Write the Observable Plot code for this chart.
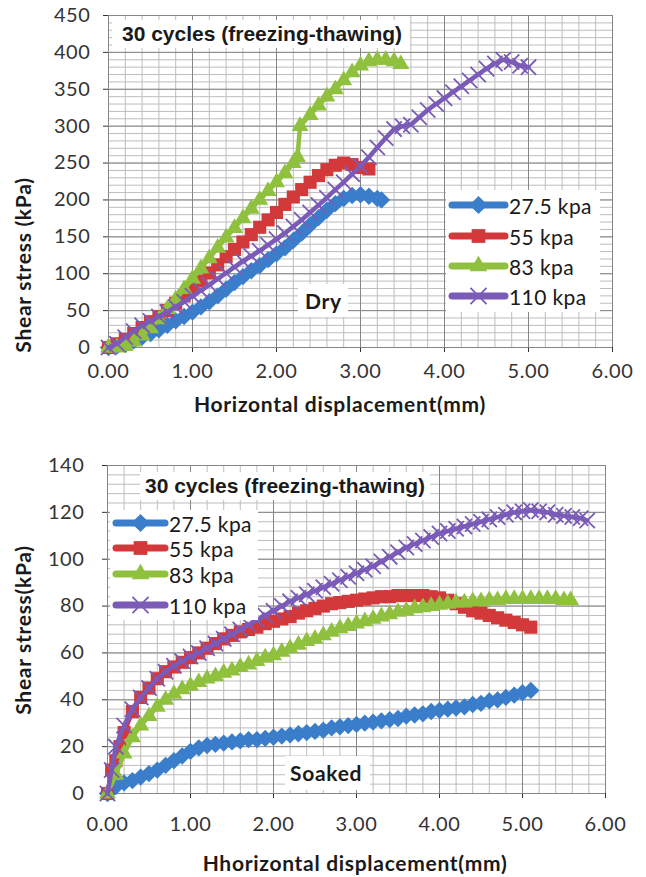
<!DOCTYPE html>
<html>
<head>
<meta charset="utf-8">
<script src="https://cdn.jsdelivr.net/npm/d3@7"></script>
<script src="https://cdn.jsdelivr.net/npm/@observablehq/plot@0.6"></script>
<style>
  html, body { margin: 0; padding: 0; background: #fff; }
  #wrap { position: relative; width: 646px; height: 877px; overflow: hidden; background: #fff; }
  #wrap > svg { position: absolute; left: 0; }
  .box { position: absolute; background: #fff; }
  .t { position: absolute; white-space: nowrap; color: #1a1a1a; }
  .ttl { font-family: "Liberation Sans", Arial, sans-serif; font-weight: bold; font-size: 21px; }
  .axt { font-family: Lato, sans-serif; font-weight: bold; font-size: 21px; letter-spacing: 0.7px; color: #1a1a1a; }
  .leg { font-family: Lato, sans-serif; font-size: 21px; letter-spacing: 0.4px; color: #1a1a1a; display: flex; align-items: center; position: absolute; }
</style>
</head>
<body>
<div id="wrap"></div>
<script>
// ---------- data ----------
const xTicks = [0, 1, 2, 3, 4, 5, 6];
const yTicksDry = [0, 50, 100, 150, 200, 250, 300, 350, 400, 450];
const yTicksSoaked = [0, 20, 40, 60, 80, 100, 120, 140];
const seriesNames = ["27.5 kpa", "55 kpa", "83 kpa", "110 kpa"];

// Dry (top chart)
const dry275X = [0,0.1,0.2,0.3,0.4,0.5,0.6,0.7,0.8,0.9,1.0,1.1,1.2,1.3,1.4,1.5,1.6,1.7,1.8,1.9,2.0,2.1,2.2,2.3,2.4,2.5,2.6,2.7,2.8,2.9,3.0,3.1,3.2,3.25];
const dry275Y = [0,2,4,9,14,19,24,30,36,42,48,55,62,70,79,88,96,104,111,119,127,135,145,155,166,176,186,195,202,206,207,205,202,200];

const dry55X = [0,0.1,0.2,0.3,0.4,0.5,0.6,0.7,0.8,0.9,1.0,1.1,1.2,1.3,1.4,1.5,1.6,1.7,1.8,1.9,2.0,2.1,2.2,2.3,2.4,2.5,2.6,2.7,2.8,2.9,3.0,3.1];
const dry55Y = [0,5,11,19,27,35,42,50,60,70,80,90,101,112,123,133,143,153,163,173,183,194,204,214,224,233,241,247,250,248,244,242];

const dry83X = [0,0.1,0.2,0.3,0.4,0.5,0.6,0.7,0.8,0.9,1.0,1.1,1.2,1.3,1.4,1.5,1.6,1.7,1.8,1.9,2.0,2.1,2.2,2.25,2.28,2.4,2.5,2.6,2.7,2.8,2.9,3.0,3.1,3.2,3.3,3.4,3.48];
const dry83Y = [0,0,2,8,16,26,38,52,65,79,93,107,121,135,149,162,175,188,200,212,224,236,250,258,300,315,328,340,350,362,373,382,388,390,390,388,384];

const dry110X = [0,0.1,0.2,0.3,0.4,0.5,0.6,0.7,0.8,0.9,1.0,1.1,1.2,1.3,1.4,1.5,1.6,1.7,1.8,1.9,2.0,2.1,2.2,2.3,2.4,2.5,2.6,2.7,2.8,2.9,3.0,3.1,3.2,3.3,3.4,3.5,3.6,3.7,3.8,3.9,4.0,4.1,4.2,4.3,4.4,4.5,4.6,4.7,4.8,4.9,5.0];
const dry110Y = [0,5,14,22,30,36,42,48,55,62,70,77,85,93,101,109,117,124,131,139,147,155,164,173,183,193,203,214,224,235,246,258,271,284,296,300,302,312,322,330,338,346,354,362,370,378,385,390,387,382,380];

// Soaked (bottom chart)
const soak275X = [0,0.1,0.2,0.3,0.4,0.5,0.6,0.7,0.8,0.9,1.0,1.1,1.2,1.3,1.4,1.5,1.6,1.7,1.8,1.9,2.0,2.1,2.2,2.3,2.4,2.5,2.6,2.7,2.8,2.9,3.0,3.1,3.2,3.3,3.4,3.5,3.6,3.7,3.8,3.9,4.0,4.1,4.2,4.3,4.4,4.5,4.6,4.7,4.8,4.9,5.0,5.1];
const soak275Y = [0,3,4.5,5.5,7,8.5,10,12,14,16,18,19.5,20.5,21,21.5,22,22.5,23,23,23.5,24,24.5,25,25.5,26,26.5,27,28,28.5,29,29.5,30,30.5,31,31.5,32,33,33.5,34,35,35.5,36,36.5,37,38,38.5,39.5,40,41,42,43,44];

const soak55X = [0,0.05,0.1,0.15,0.2,0.3,0.4,0.5,0.6,0.7,0.8,0.9,1.0,1.1,1.2,1.3,1.4,1.5,1.6,1.7,1.8,1.9,2.0,2.1,2.2,2.3,2.4,2.5,2.6,2.7,2.8,2.9,3.0,3.1,3.2,3.3,3.4,3.5,3.6,3.7,3.8,3.9,4.0,4.1,4.2,4.3,4.4,4.5,4.6,4.7,4.8,4.9,5.0,5.1];
const soak55Y = [0,10,14,20,26,35,41,45,49,52,54,56,58,60,62,64,66,67.5,69,70,71,72.5,73.5,74.5,75.5,77,78,79,80,81,81.5,82,82.5,83,83.5,84,84,84.5,84.5,84.5,84.5,84,83.5,82.5,81,79.5,78,77,76,75,74,73,72,71];

const soak83X = [0,0.1,0.2,0.3,0.4,0.5,0.6,0.7,0.8,0.9,1.0,1.1,1.2,1.3,1.4,1.5,1.6,1.7,1.8,1.9,2.0,2.1,2.2,2.3,2.4,2.5,2.6,2.7,2.8,2.9,3.0,3.1,3.2,3.3,3.4,3.5,3.6,3.7,3.8,3.9,4.0,4.1,4.2,4.3,4.4,4.5,4.6,4.7,4.8,4.9,5.0,5.1,5.2,5.3,5.4,5.5,5.58];
const soak83Y = [0,8,17,24,29,33,37,40,42.5,44.5,46,47.5,49,50,51.5,52.5,54,55,56.5,58,59,60.5,62,63.5,65,66,67.5,69,70.5,71.5,72.5,73.5,74.5,75.5,76.5,77.5,78,79,79.5,80,80.5,81,81.5,81.5,82,82,82.5,82.5,83,83,83,83,83,83,83,82.5,82.5];

const soak110X = [0,0.05,0.1,0.2,0.3,0.4,0.5,0.6,0.7,0.8,0.9,1.0,1.1,1.2,1.3,1.4,1.5,1.6,1.7,1.8,1.9,2.0,2.1,2.2,2.3,2.4,2.5,2.6,2.7,2.8,2.9,3.0,3.1,3.2,3.3,3.4,3.5,3.6,3.7,3.8,3.9,4.0,4.1,4.2,4.3,4.4,4.5,4.6,4.7,4.8,4.9,5.0,5.1,5.2,5.3,5.4,5.5,5.6,5.7,5.78];
const soak110Y = [0,10,20,29,36,41,45,49,52,54.5,56.5,58.5,60,62,64,66,68,70,72,74,76,78,80,82,83.5,85,86.5,88,89.5,91,92.5,94,95.5,97,99,101,103,105,106.5,108,109.5,111,112,113,114,115,116,117,118,119,120,120.5,121,120.5,120,119,118.5,118,117.5,116.5];

// ---------- styling ----------
const colors = ["#3a7ecb", "#d3393a", "#8fc13f", "#7b5bb8"];
const symbols = ["diamond2", "square", "triangle", "times"];
const radii = [7.8, 7.4, 6.3, 7];

function makePanel(cfg) {
  const marks = [
    Plot.ruleX(d3.range(0, 6.001, 0.2), {stroke: "#bdbdbd", strokeWidth: 1}),
    Plot.ruleY(d3.range(0, cfg.yMax + 0.001, cfg.yMinorStep), {stroke: "#bdbdbd", strokeWidth: 1}),
    Plot.ruleX(xTicks, {stroke: "#868686", strokeWidth: 1}),
    Plot.ruleY(cfg.yTicks, {stroke: "#868686", strokeWidth: 1})
  ];
  cfg.series.forEach((s, i) => {
    const data = s.x.map((x, j) => ({x, y: s.y[j]}));
    marks.push(Plot.line(data, {x: "x", y: "y", stroke: colors[i], strokeWidth: 4.5}));
    if (symbols[i] === "times") {
      marks.push(Plot.dot(data, {x: "x", y: "y", symbol: "times", r: radii[i], stroke: colors[i], strokeWidth: 1.8}));
    } else {
      marks.push(Plot.dot(data, {x: "x", y: "y", symbol: symbols[i], r: radii[i], fill: colors[i], stroke: "none"}));
    }
  });
  return Plot.plot({
    width: 646,
    height: cfg.height,
    marginTop: cfg.mt, marginBottom: cfg.mb, marginLeft: cfg.ml, marginRight: cfg.mr,
    style: {fontFamily: "Lato, sans-serif", fontSize: cfg.fs, letterSpacing: "0.6px", color: "#333", background: "transparent"},
    x: {domain: [0, 6], ticks: xTicks, tickFormat: d => d.toFixed(2), tickSize: 5, tickPadding: cfg.xpad, label: null},
    y: {domain: [0, cfg.yMax], ticks: cfg.yTicks, tickSize: 5, tickPadding: cfg.ypad, label: null},
    marks
  });
}

const wrap = document.getElementById("wrap");

const topPanel = makePanel({
  height: 420, mt: 15, mb: 73, ml: 108, mr: 34, fs: "20px", xpad: 11, ypad: 13,
  yMax: 450, yTicks: yTicksDry, yMinorStep: 10,
  series: [
    {x: dry275X, y: dry275Y}, {x: dry55X, y: dry55Y}, {x: dry83X, y: dry83Y}, {x: dry110X, y: dry110Y}
  ]
});
topPanel.style.top = "0px";
wrap.appendChild(topPanel);

const bottomPanel = makePanel({
  height: 457, mt: 45, mb: 84, ml: 107, mr: 41, fs: "20px", xpad: 18, ypad: 18,
  yMax: 140, yTicks: yTicksSoaked, yMinorStep: 4,
  series: [
    {x: soak275X, y: soak275Y}, {x: soak55X, y: soak55Y}, {x: soak83X, y: soak83Y}, {x: soak110X, y: soak110Y}
  ]
});
bottomPanel.style.top = "420px";
wrap.appendChild(bottomPanel);

// ---------- overlays ----------
function box(l, t, w, h) {
  const d = document.createElement("div");
  d.className = "box";
  Object.assign(d.style, {left: l + "px", top: t + "px", width: w + "px", height: h + "px"});
  wrap.appendChild(d);
}
function text(str, cls, l, cy) {
  const d = document.createElement("div");
  d.className = "t " + cls;
  d.textContent = str;
  Object.assign(d.style, {left: l + "px", top: cy + "px", transform: "translateY(-50%)"});
  wrap.appendChild(d);
  return d;
}
function centered(str, cls, cx, cy, rot) {
  const d = document.createElement("div");
  d.className = "t " + cls;
  d.textContent = str;
  Object.assign(d.style, {left: cx + "px", top: cy + "px",
    transform: "translate(-50%,-50%)" + (rot ? " rotate(-90deg)" : "")});
  wrap.appendChild(d);
}
function legendItem(i, l, cy, lineW) {
  const row = document.createElement("div");
  row.className = "leg";
  Object.assign(row.style, {left: l + "px", top: (cy - 14) + "px", height: "28px"});
  const svg = d3.create("svg").attr("width", lineW + 4).attr("height", 28);
  svg.append("line").attr("x1", 4).attr("x2", lineW).attr("y1", 14).attr("y2", 14)
    .attr("stroke", colors[i]).attr("stroke-width", 7).attr("stroke-linecap", "round");
  const symMap = {diamond2: d3.symbolDiamond2, square: d3.symbolSquare, triangle: d3.symbolTriangle, times: d3.symbolTimes};
  const size = Math.PI * (radii[i] * 1.05) ** 2;
  const p = svg.append("path").attr("d", d3.symbol(symMap[symbols[i]], size)())
    .attr("transform", `translate(${(lineW + 4) / 2},14)`);
  if (symbols[i] === "times") p.attr("fill", "none").attr("stroke", colors[i]).attr("stroke-width", 1.8);
  else p.attr("fill", colors[i]);
  row.appendChild(svg.node());
  const s = document.createElement("span");
  s.textContent = seriesNames[i];
  row.appendChild(s);
  wrap.appendChild(row);
}

// Top panel annotations
box(112, 20, 298, 28);
text("30 cycles (freezing-thawing)", "ttl", 122, 34);
box(446, 190, 154, 122);
[205, 236, 266, 296].forEach((cy, i) => legendItem(i, 448, cy, 57));
box(298, 284, 50, 33);
text("Dry", "axt", 305, 300);
centered("Shear stress (kPa)", "axt", 22, 265, true);
centered("Horizontal displacement(mm)", "axt", 340, 403);

// Bottom panel annotations
box(140, 472, 290, 28);
text("30 cycles (freezing-thawing)", "ttl", 145, 486);
box(110, 510, 148, 110);
[523, 548, 574, 605].forEach((cy, i) => legendItem(i, 112, cy, 53));
box(285, 756, 85, 34);
text("Soaked", "axt", 290, 772);
centered("Shear stress(kPa)", "axt", 22, 630, true);
centered("Hhorizontal displacement(mm)", "axt", 355, 862);
</script>
</body>
</html>
